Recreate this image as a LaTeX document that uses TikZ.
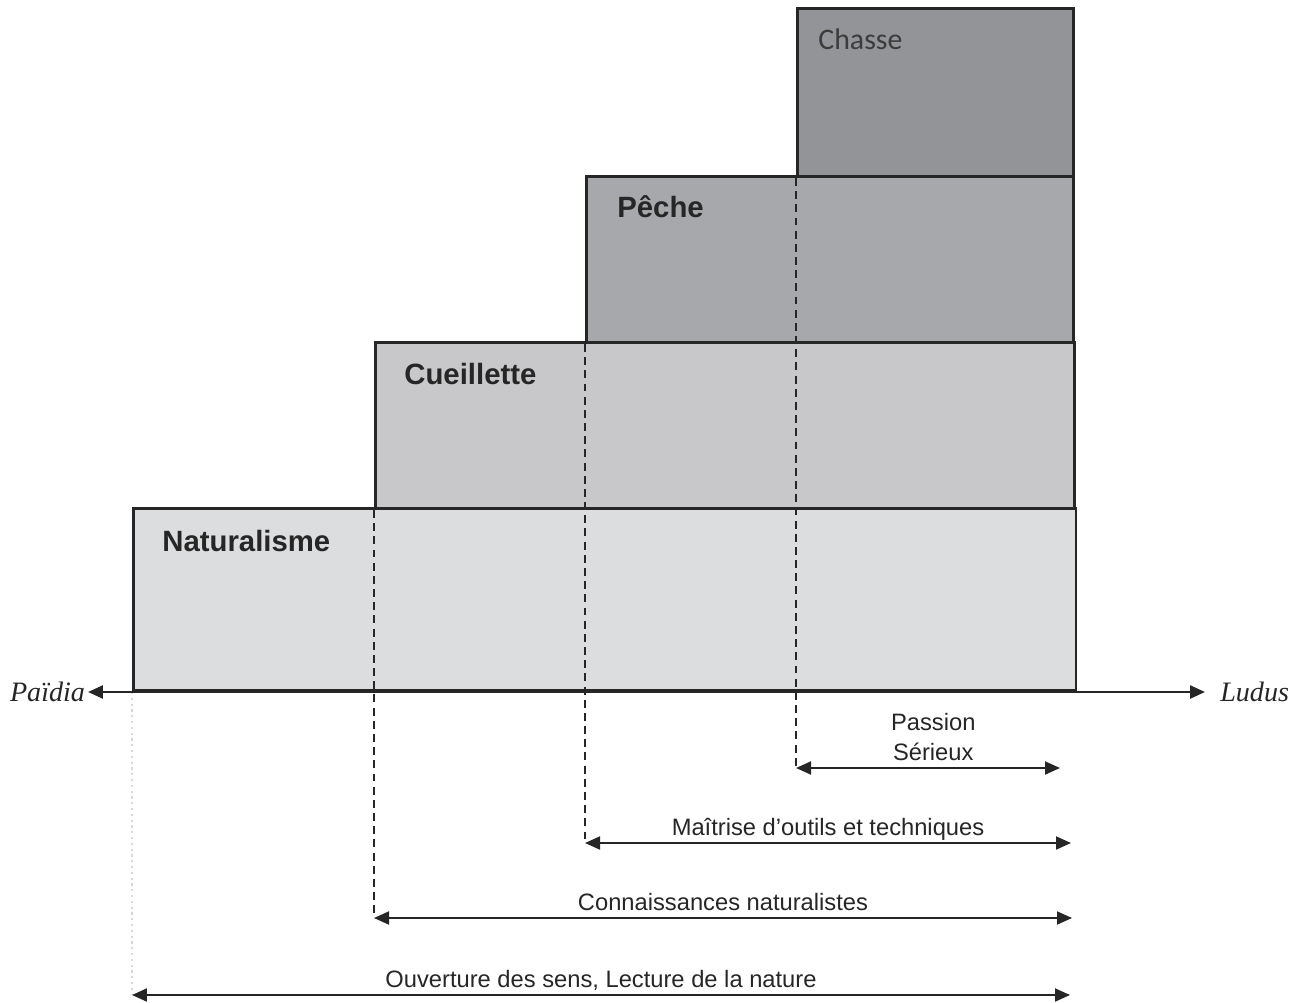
\documentclass[tikz,border=0pt]{standalone}
\usepackage{fontspec}
\setmainfont{Liberation Sans}
\newfontfamily\chassefont{Carlito}
\newfontfamily\axisfont{Liberation Serif}
\usetikzlibrary{positioning, arrows.meta}
\newcommand{\spanarrow}{{Triangle[length=3mm,width=2.6mm]}-{Triangle[length=3mm,width=2.6mm]}}
\definecolor{linegray}{HTML}{262626}
\definecolor{natfill}{HTML}{DCDDDF}
\definecolor{cueilfill}{HTML}{C8C8CA}
\definecolor{pechefill}{HTML}{A7A8AB}
\definecolor{chassefill}{HTML}{939498}
\tikzset{
  level/.style={draw=linegray, line width=1.5pt, inner sep=0pt, anchor=south west},
  levellabel/.style={anchor=base west, inner sep=0pt, text=linegray,
    font=\fontsize{16.7}{20}\selectfont\bfseries},
  guide/.style={draw=linegray, line width=1pt, dash pattern=on 4.5pt off 3pt},
  span/.style={draw=linegray, line width=1.1pt},
  spanlabel/.style={above=4pt, inner sep=0pt, text depth=0pt, align=center,
    text=linegray, font=\fontsize{13.5}{17}\selectfont},
  axislabel/.style={inner sep=0pt, text=linegray,
    font=\axisfont\itshape\fontsize{16}{19}\selectfont}
}

\begin{document}
\begin{tikzpicture}[x=0.02cm, y=-0.02cm]
    \useasboundingbox (0,0) rectangle (1301,1003);

    % steps
    \node[level, fill=natfill, minimum width=18.86cm, minimum height=3.64cm] (natur) at (132,692) {};
    \node[level, fill=cueilfill, minimum width=13.98cm, minimum height=3.32cm] (cueil) at (374,510) {};
    \node[level, fill=pechefill, minimum width=9.74cm, minimum height=3.32cm] (peche) at (585,344) {};
    \node[level, fill=chassefill, minimum width=5.52cm, minimum height=3.36cm] (chasse) at (796,178) {};

    \node[levellabel] (naturtxt) at (162,551) {Naturalisme};
    \node[levellabel] (cueiltxt) at (404,384) {Cueillette};
    \node[levellabel] (pechetxt) at (617,218) {Pêche};
    \node[levellabel, font=\chassefont\fontsize{17}{20}\selectfont, text=linegray!90] (chassetxt) at (818,50) {Chasse};

    % ends of the spans
    \coordinate (passl) at (796,768);
    \coordinate (passr) at (1060,768);
    \coordinate (maitl) at (585,843);
    \coordinate (maitr) at (1071,843);
    \coordinate (connl) at (374,918);
    \coordinate (connr) at (1072,918);
    \coordinate (ouvl) at (132,995);
    \coordinate (ouvr) at (1070,995);

    \draw[guide] (chasse.south west) -- (passl);
    \draw[guide] (peche.south west) -- (maitl);
    \draw[guide] (cueil.south west) -- (connl);
    \draw[gray!30, line width=1.3pt, dotted] (natur.south west) -- (ouvl);

    % axis
    \coordinate (axl) at (88,692);
    \coordinate (axr) at (1205,692);
    \node[axislabel, left=1.5pt of axl] (paidia) {Païdia};
    \node[axislabel, right=8.5pt of axr] (ludus) {Ludus};
    \draw[span, line width=1.4pt, \spanarrow] (axl) -- (axr);

    % spans
    \draw[span, \spanarrow] (passl) -- (passr)
        node[spanlabel, midway, xshift=3pt] (passtxt) {Passion\\Sérieux};
    \draw[span, \spanarrow] (maitl) -- (maitr)
        node[spanlabel, midway] (maittxt) {Maîtrise d’outils et techniques};
    \draw[span, \spanarrow] (connl) -- (connr)
        node[spanlabel, midway] (conntxt) {Connaissances naturalistes};
    \draw[span, \spanarrow] (ouvl) -- (ouvr)
        node[spanlabel, midway] (ouvtxt) {Ouverture des sens, Lecture de la nature};
\end{tikzpicture}
\end{document}
